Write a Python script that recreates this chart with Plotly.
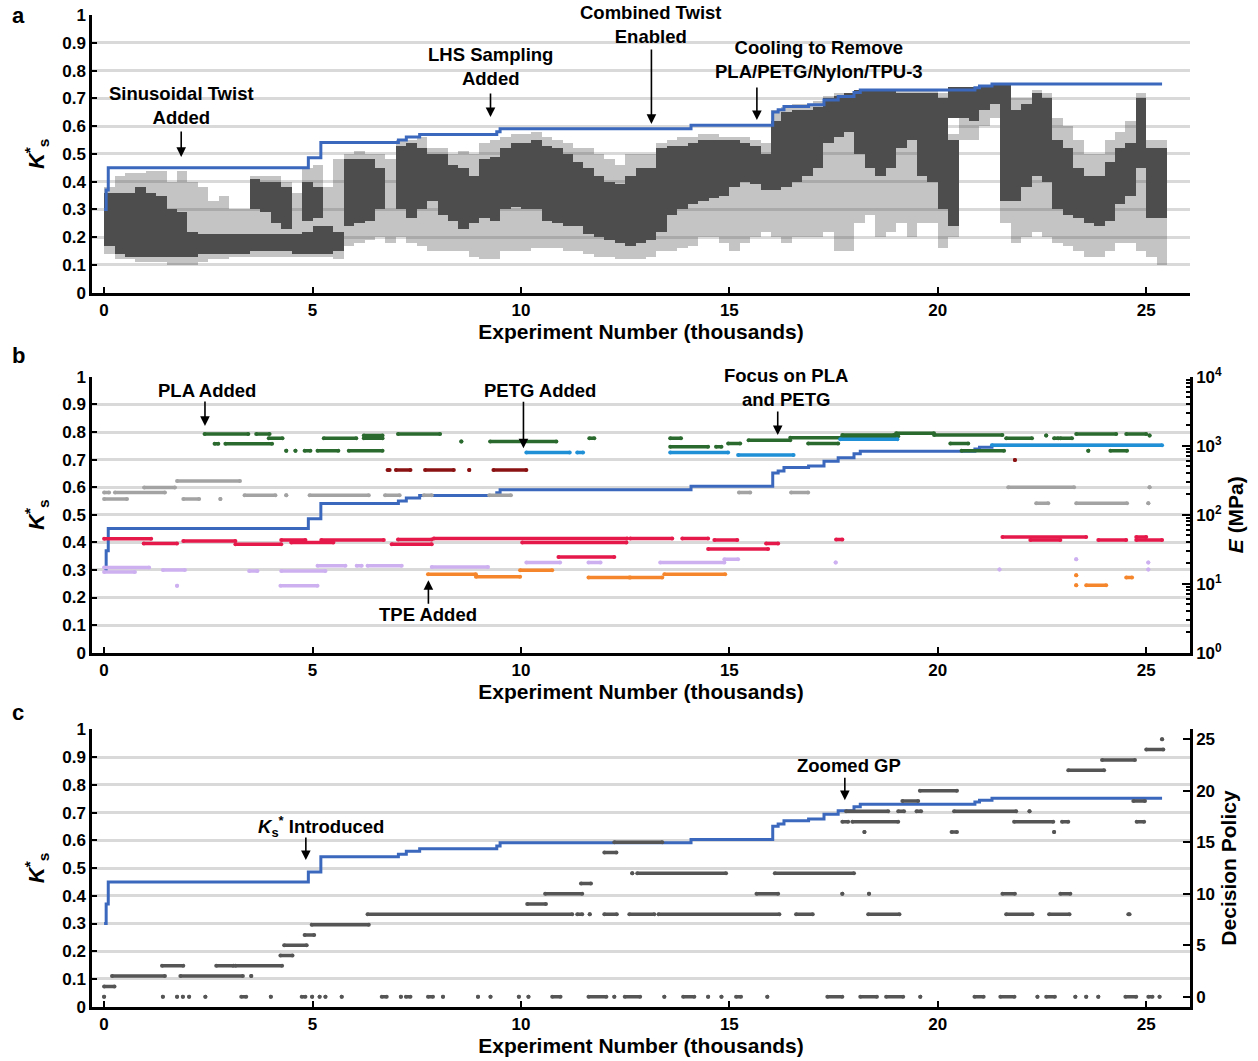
import plotly.graph_objects as go

# ---------------- DATA ----------------
# Best-so-far K_s* (step line, shared by all panels)
step_x = [0, 0.05, 0.1, 4.9, 5.2, 7.06, 7.25, 7.57, 9.42, 9.5, 14.08, 16.04, 16.17, 16.31,
          16.9, 17.27, 17.61, 17.99, 18.14, 20.89, 21.0, 21.3, 25.38]
step_y = [0.30, 0.37, 0.45, 0.486, 0.541, 0.55, 0.561, 0.570, 0.58, 0.591, 0.603, 0.651, 0.659,
          0.671, 0.677, 0.694, 0.707, 0.721, 0.730, 0.738, 0.745, 0.752, 0.752]

# Panel a: experiment cloud, summarised per 250-experiment bin (thousands)
cloud_bin_first = 0.0
cloud_bin_width = 0.25
core_lo = [0.17, 0.14, 0.13, 0.13, 0.13, 0.13, 0.13, 0.13, 0.13, 0.14, 0.14, 0.14, 0.14, 0.14,
           0.15, 0.15, 0.15, 0.15, 0.14, 0.14, 0.14, 0.14, 0.15, 0.24, 0.25, 0.26, 0.30, None,
           0.30, 0.27, 0.30, 0.33, 0.28, 0.26, 0.23, 0.25, 0.27, 0.26, 0.30, 0.31, 0.30, 0.30,
           0.26, 0.25, 0.24, 0.24, 0.21, 0.20, 0.19, 0.18, 0.17, 0.18, 0.19, 0.22, 0.28, 0.30,
           0.32, 0.33, 0.34, 0.35, 0.38, 0.40, 0.39, 0.37, 0.37, 0.38, 0.40, 0.42, 0.45, 0.54,
           0.56, 0.58, 0.50, 0.45, 0.42, 0.45, 0.52, 0.55, 0.42, 0.40, 0.30, 0.24, 0.63, 0.62,
           0.66, 0.68, 0.33, 0.33, 0.38, 0.42, 0.40, 0.30, 0.28, 0.27, 0.25, 0.24, 0.26, 0.32,
           0.35, 0.45, 0.27, 0.27]
core_hi = [0.36, 0.36, 0.36, 0.38, 0.36, 0.35, 0.30, 0.29, 0.22, 0.21, 0.21, 0.21, 0.21, 0.21,
           0.21, 0.21, 0.21, 0.21, 0.21, 0.22, 0.24, 0.24, 0.22, 0.48, 0.48, 0.48, 0.45, None,
           0.53, 0.54, 0.52, 0.50, 0.50, 0.46, 0.45, 0.42, 0.48, 0.49, 0.52, 0.54, 0.54, 0.55,
           0.53, 0.52, 0.50, 0.47, 0.45, 0.42, 0.40, 0.39, 0.42, 0.45, 0.45, 0.52, 0.53, 0.53,
           0.54, 0.55, 0.55, 0.55, 0.55, 0.54, 0.53, 0.50, 0.62, 0.65, 0.66, 0.66, 0.67, 0.70,
           0.71, 0.72, 0.73, 0.73, 0.73, 0.73, 0.72, 0.72, 0.72, 0.72, 0.70, 0.55, 0.74, 0.74,
           0.75, 0.75, 0.75, 0.66, 0.68, 0.72, 0.70, 0.55, 0.52, 0.45, 0.42, 0.42, 0.47, 0.52,
           0.54, 0.70, 0.52, 0.52]
halo_lo = [0.14, 0.12, 0.12, 0.11, 0.11, 0.11, 0.10, 0.10, 0.10, 0.11, 0.12, 0.12, 0.13, 0.13,
           0.13, 0.13, 0.13, 0.13, 0.13, 0.13, 0.13, 0.13, 0.12, 0.17, 0.18, 0.19, 0.20, 0.18,
           0.20, 0.18, 0.17, 0.15, 0.15, 0.15, 0.15, 0.13, 0.12, 0.12, 0.15, 0.15, 0.15, 0.16,
           0.16, 0.16, 0.15, 0.15, 0.14, 0.13, 0.13, 0.12, 0.12, 0.12, 0.13, 0.15, 0.15, 0.16,
           0.17, 0.20, 0.20, 0.18, 0.15, 0.18, 0.20, 0.22, 0.20, 0.18, 0.20, 0.20, 0.20, 0.22,
           0.15, 0.15, 0.25, 0.28, 0.20, 0.22, 0.25, 0.20, 0.25, 0.25, 0.16, 0.20, 0.55, 0.55,
           0.60, 0.63, 0.25, 0.18, 0.20, 0.22, 0.20, 0.18, 0.17, 0.15, 0.13, 0.13, 0.15, 0.18,
           0.18, 0.15, 0.13, 0.10]
halo_hi = [0.38, 0.42, 0.43, 0.43, 0.44, 0.44, 0.40, 0.44, 0.40, 0.38, 0.33, 0.35, 0.30, 0.30,
           0.42, 0.42, 0.42, 0.40, 0.36, 0.45, 0.46, 0.38, 0.48, 0.50, 0.51, 0.50, 0.50, 0.48,
           0.55, 0.55, 0.56, 0.52, 0.52, 0.50, 0.51, 0.50, 0.54, 0.55, 0.56, 0.57, 0.57, 0.58,
           0.56, 0.55, 0.54, 0.52, 0.52, 0.50, 0.48, 0.46, 0.50, 0.50, 0.50, 0.54, 0.55, 0.56,
           0.56, 0.57, 0.57, 0.56, 0.56, 0.56, 0.55, 0.54, 0.66, 0.67, 0.68, 0.68, 0.69, 0.71,
           0.72, 0.72, 0.73, 0.73, 0.73, 0.73, 0.73, 0.73, 0.73, 0.73, 0.72, 0.57, 0.74, 0.74,
           0.75, 0.75, 0.75, 0.70, 0.70, 0.73, 0.72, 0.63, 0.60, 0.55, 0.50, 0.50, 0.55, 0.58,
           0.62, 0.72, 0.55, 0.55]
# secondary dense clusters (upper clumps) per bin index
core2_bin = [14, 15, 16, 17, 19, 20, 81]
core2_lo = [0.30, 0.29, 0.25, 0.23, 0.26, 0.27, 0.63]
core2_hi = [0.41, 0.40, 0.40, 0.38, 0.40, 0.38, 0.74]

# Panel b: material campaigns (start, end in thousands; modulus E in MPa)
materials = {
    "PLA": dict(color="#2b6a2f",
        start=[2.41, 3.65, 7.05, 3.95, 5.27, 6.23, 6.23, 11.64, 2.65, 2.91, 8.57, 9.26, 4.37, 4.59,
               4.81, 5.12, 5.87, 13.58, 13.58, 14.68, 14.97, 15.46, 16.46, 17.71, 17.71, 19.0,
               19.91, 16.89, 20.3, 21.64, 22.6, 22.79, 22.94, 23.32, 24.52, 25.08, 20.57, 23.61,
               24.14],
        end=[3.46, 3.97, 8.06, 4.28, 6.05, 6.68, 6.68, 11.76, 2.74, 4.03, 8.57, 10.85, 4.37, 4.59,
             4.95, 5.62, 6.68, 13.84, 14.49, 14.81, 15.26, 16.46, 17.71, 19.05, 18.95, 19.91,
             21.55, 17.61, 20.73, 22.26, 22.6, 22.89, 23.22, 24.28, 25.0, 25.08, 21.59, 23.61,
             24.54],
        E=[1472, 1472, 1472, 1282, 1282, 1282, 1400, 1282, 1067, 1067, 1148, 1148, 847, 847,
           847, 847, 847, 1282, 964, 964, 1079, 1202, 1306, 1368, 1432, 1514, 1432, 1079, 1079,
           1282, 1400, 1282, 1282, 1472, 1472, 1400, 847, 847, 847]),
    "PETG": dict(color="#1f8fd6",
        start=[10.13, 11.35, 13.58, 15.21, 17.66, 21.3],
        end=[11.17, 11.49, 14.97, 16.54, 19.03, 25.38],
        E=[794, 794, 794, 731, 1236, 1019]),
    "Nylon": dict(color="#8b1212",
        start=[6.8, 7.0, 7.7, 8.76, 9.34, 21.85],
        end=[6.85, 7.35, 8.39, 8.76, 10.13, 21.85],
        E=[445, 445, 445, 445, 445, 619]),
    "Gray": dict(color="#a3a3a3",
        start=[0.0, 0.26, 0.0, 1.9, 2.79, 0.96, 1.75, 3.37, 4.37, 4.93, 6.74, 7.67, 9.24, 15.23,
               16.48, 21.69, 25.08, 22.36, 23.32, 25.05],
        end=[0.12, 1.46, 0.55, 2.28, 2.79, 1.7, 3.26, 4.11, 4.37, 6.35, 7.09, 7.86, 9.76, 15.5,
             16.89, 23.27, 25.08, 22.65, 24.54, 25.05],
        E=[209, 209, 169, 169, 169, 247, 308, 192, 192, 192, 192, 192, 192, 209, 209, 250, 250,
           146, 146, 146]),
    "TPU": dict(color="#e6194b",
        start=[0.0, 0.95, 1.9, 3.15, 4.25, 4.49, 5.21, 6.9, 7.05, 7.91, 10.03, 10.9, 12.62, 13.87,
               14.64, 14.49, 15.88, 17.56, 21.55, 22.22, 23.85, 24.76, 24.76],
        end=[1.13, 1.75, 3.15, 4.25, 4.83, 5.5, 6.71, 7.86, 7.86, 12.55, 12.53, 12.24, 13.63,
             14.49, 15.19, 15.93, 16.17, 17.71, 23.56, 22.94, 24.52, 25.38, 25.0],
        E=[44.9, 38.4, 41.7, 37.4, 42.9, 39.5, 42.9, 37.4, 43.7, 45.3, 39.5, 24.4, 45.3, 45.3,
           42.9, 31.9, 38.4, 43.7, 47.4, 42.9, 42.9, 42.9, 47.4]),
    "Soft": dict(color="#cdb0f0",
        start=[0.0, 0.0, 1.41, 1.75, 4.23, 3.48, 4.25, 5.12, 6.06, 6.32, 7.86, 10.13, 11.62, 13.34,
               14.88, 17.55, 23.32, 25.05, 21.48, 25.05],
        end=[1.08, 0.74, 1.94, 1.75, 5.12, 3.68, 5.31, 5.79, 6.18, 7.14, 9.21, 10.94, 11.91,
             14.88, 15.21, 17.55, 23.32, 25.05, 21.48, 25.05],
        E=[17.1, 14.8, 15.8, 9.3, 9.3, 15.3, 15.3, 18.2, 18.2, 18.2, 17.4, 20.3, 20.3, 20.3,
           22.7, 20.3, 22.7, 20.3, 16.1, 16.1]),
    "TPE": dict(color="#f5862c",
        start=[7.77, 8.92, 9.98, 11.62, 12.62, 13.44, 23.32, 23.32, 23.56, 24.52],
        end=[8.92, 9.98, 10.75, 12.6, 13.39, 14.9, 23.32, 23.32, 24.04, 24.66],
        E=[13.7, 12.6, 15.6, 12.3, 12.3, 13.7, 13.3, 9.5, 9.5, 12.3]),
}

# Panel c: decision policy campaigns (start, end in thousands; policy index)
policy_start = [0.0, 0.19, 1.83, 3.53, 1.39, 2.69, 3.15, 4.23, 4.32, 4.81, 4.98,
                6.32, 11.35, 11.65, 12.0, 12.6, 13.3, 16.6, 18.33, 21.64, 22.67, 24.57,
                10.15, 10.58, 15.65, 17.71, 18.35, 21.55, 22.94, 11.44,
                12.67, 12.79, 16.09, 12.0, 12.24, 18.24, 20.33, 22.79,
                17.71, 17.95, 21.83, 22.98, 24.77, 17.8, 19.05, 19.49, 20.39, 22.2,
                19.15, 24.69, 19.57, 23.13, 23.94, 25.0, 25.38,
                0.0, 1.41, 1.75, 1.89, 2.04, 2.43, 3.29, 4.0, 4.74, 4.99, 5.17, 5.31, 5.7, 6.66,
                7.12, 7.24, 7.77, 8.13, 8.97, 9.27, 9.95, 10.18, 10.75, 11.62, 12.24, 12.49,
                13.44, 13.89, 14.49, 14.81, 15.16, 15.91, 17.35, 18.14, 18.76, 19.58, 20.88,
                21.5, 22.39, 22.6, 23.3, 23.56, 23.85, 24.5, 25.05, 25.32]
policy_end = [0.25, 1.46, 3.33, 3.53, 1.9, 3.1, 4.27, 4.52, 4.86, 5.04, 6.35,
              11.23, 11.47, 11.65, 12.3, 13.2, 16.2, 17.0, 19.08, 22.27, 23.16, 24.6,
              10.6, 11.47, 16.17, 17.71, 18.35, 21.85, 23.18, 11.68,
              12.67, 14.92, 17.99, 12.29, 13.39, 18.24, 20.46, 22.79,
              17.85, 19.05, 22.77, 23.13, 24.95, 18.81, 19.19, 19.6, 21.88, 22.2,
              19.53, 24.97, 20.46, 23.99, 24.73, 25.41, 25.38,
              0.0, 1.41, 1.75, 1.89, 2.04, 2.43, 3.41, 4.0, 4.83, 4.99, 5.17, 5.31, 5.7, 6.78,
              7.12, 7.35, 7.89, 8.13, 8.97, 9.27, 9.95, 10.18, 10.95, 12.05, 12.24, 12.86,
              13.44, 14.16, 14.49, 14.81, 15.28, 15.91, 17.71, 18.54, 19.17, 19.58, 21.1,
              21.84, 22.39, 22.81, 23.3, 23.56, 23.85, 24.76, 25.15, 25.32]
policy_level = [1, 2, 2, 2, 3, 3, 3, 4, 5, 6, 7,
                8, 8, 8, 8, 8, 8, 8, 8, 8, 8, 8,
                9, 10, 10, 10, 10, 10, 10, 11,
                12, 12, 12, 14, 15, 16, 16, 16,
                17, 17, 17, 17, 17, 18, 18, 18, 18, 18,
                19, 19, 20, 22, 23, 24, 25,
                0, 0, 0, 0, 0, 0, 0, 0, 0, 0, 0, 0, 0, 0,
                0, 0, 0, 0, 0, 0, 0, 0, 0, 0, 0, 0,
                0, 0, 0, 0, 0, 0, 0, 0, 0, 0, 0,
                0, 0, 0, 0, 0, 0, 0, 0, 0]

x_ticks = [0, 5, 10, 15, 20, 25]

# ---------------- STYLE ----------------
FONT = "Liberation Sans, Arial, sans-serif"
BLUE = "#3b68bd"
CORE = "#4d4d4d"
HALO = "rgba(77,77,77,0.33)"
GRID = "#d9d9d9"
X_DOM = [92 / 1258, 1190 / 1258]
X_RANGE = [-0.29, 26.05]

fig = go.Figure()


def segs(starts, ends, vals):
    xs, ys = [], []
    for s, e, v in zip(starts, ends, vals):
        xs += [s, e, None]
        ys += [v, v, None]
    return xs, ys


# ---- panel a ----
n = len(core_lo)
centers = [cloud_bin_first + cloud_bin_width * (i + 0.5) for i in range(n)]
hx, hb, hh = [], [], []
for i in range(n):
    hx.append(centers[i]); hb.append(halo_lo[i]); hh.append(halo_hi[i] - halo_lo[i])
fig.add_trace(go.Bar(x=hx, y=hh, base=hb, width=cloud_bin_width, xaxis="x", yaxis="y",
                     marker=dict(color=HALO, line=dict(width=0)),
                     showlegend=False, hoverinfo="skip"))
cx, cb, ch = [], [], []
for i in range(n):
    if core_lo[i] is None:
        continue
    cx.append(centers[i]); cb.append(core_lo[i]); ch.append(core_hi[i] - core_lo[i])
for i, lo, hi in zip(core2_bin, core2_lo, core2_hi):
    cx.append(centers[i]); cb.append(lo); ch.append(hi - lo)
fig.add_trace(go.Bar(x=cx, y=ch, base=cb, width=cloud_bin_width, xaxis="x", yaxis="y",
                     marker=dict(color=CORE, line=dict(width=0)),
                     showlegend=False, hoverinfo="skip"))

for xa, ya in [("x", "y"), ("x2", "y2"), ("x3", "y4")]:
    fig.add_trace(go.Scatter(x=step_x, y=step_y, xaxis=xa, yaxis=ya, mode="lines",
                             line=dict(color=BLUE, width=3, shape="hv"),
                             showlegend=False, hoverinfo="skip"))

# ---- panel b ----
for name, m in materials.items():
    xs, ys = segs(m["start"], m["end"], m["E"])
    fig.add_trace(go.Scatter(x=xs, y=ys, xaxis="x2", yaxis="y3", mode="lines+markers",
                             line=dict(color=m["color"], width=3.5),
                             marker=dict(color=m["color"], size=4),
                             showlegend=False, hoverinfo="skip", name=name))

# ---- panel c ----
xs, ys = segs(policy_start, policy_end, policy_level)
fig.add_trace(go.Scatter(x=xs, y=ys, xaxis="x3", yaxis="y5", mode="lines+markers",
                         line=dict(color="#555555", width=3.5),
                         marker=dict(color="#555555", size=4),
                         showlegend=False, hoverinfo="skip"))

# ---------------- AXES ----------------
tickfont = dict(family=FONT, size=17, color="black", weight="bold")
titlefont = dict(family=FONT, size=21, color="black", weight="bold")


def xaxis(anchor):
    return dict(domain=X_DOM, range=X_RANGE, anchor=anchor, tickvals=x_ticks,
                ticks="inside", ticklen=6, tickwidth=2, tickcolor="black",
                showline=True, linewidth=2.5, linecolor="black", showgrid=False,
                zeroline=False, tickfont=tickfont, automargin=False,
                title=dict(text="Experiment Number (thousands)", font=titlefont, standoff=2))


def yaxis(domain, anchor):
    return dict(domain=domain, range=[0, 1.0005], anchor=anchor,
                tickvals=[0, 0.1, 0.2, 0.3, 0.4, 0.5, 0.6, 0.7, 0.8, 0.9, 1],
                ticktext=["0", "0.1", "0.2", "0.3", "0.4", "0.5", "0.6", "0.7", "0.8", "0.9", "1"],
                ticks="inside", ticklen=5, tickwidth=2, tickcolor="black",
                showline=True, linewidth=2.5, linecolor="black",
                showgrid=True, gridcolor=GRID, gridwidth=2.5, zeroline=False,
                tickfont=tickfont, automargin=False,
                title=dict(text="<i>K</i><sup>*</sup><sub>s</sub>", font=dict(family=FONT, size=22,
                           color="black", weight="bold"), standoff=12))


dom_a = [1 - 292.7 / 1061, 1 - 15 / 1061]
dom_b = [1 - 652.7 / 1061, 1 - 376.7 / 1061]
dom_c = [1 - 1006.7 / 1061, 1 - 729.3 / 1061]

fig.update_layout(
    width=1258, height=1061, margin=dict(l=0, r=0, t=0, b=0, autoexpand=False),
    paper_bgcolor="white", plot_bgcolor="white",
    barmode="overlay", bargap=0, showlegend=False,
    font=dict(family=FONT, color="black"),
    xaxis=xaxis("y"), yaxis=yaxis(dom_a, "x"),
    xaxis2=xaxis("y2"), yaxis2=yaxis(dom_b, "x2"),
    xaxis3=xaxis("y4"), yaxis4=yaxis(dom_c, "x3"),
    yaxis3=dict(overlaying="y2", anchor="x2", side="right", type="log", range=[0, 4],
                tickvals=[1, 10, 100, 1000, 10000],
                ticktext=["10<sup>0</sup>", "10<sup>1</sup>", "10<sup>2</sup>", "10<sup>3</sup>",
                          "10<sup>4</sup>"],
                ticks="inside", ticklen=8, tickwidth=2, tickcolor="black",
                minor=dict(ticks="inside", ticklen=4, tickwidth=1.5, tickcolor="black",
                           dtick="D1", showgrid=False),
                showline=True, linewidth=2.5, linecolor="black", showgrid=False, zeroline=False,
                tickfont=tickfont, automargin=False,
                title=dict(text="<i>E</i> (MPa)", font=titlefont, standoff=8)),
    yaxis5=dict(overlaying="y4", anchor="x3", side="right", range=[-0.97, 25.97],
                tickvals=[0, 5, 10, 15, 20, 25],
                ticks="inside", ticklen=7, tickwidth=2, tickcolor="black",
                showline=True, linewidth=2.5, linecolor="black", showgrid=False, zeroline=False,
                tickfont=tickfont, automargin=False,
                title=dict(text="Decision Policy", font=titlefont, standoff=8)),
)

# ---------------- ANNOTATIONS ----------------
afont = dict(family=FONT, size=18.5, color="black", weight="bold")
texts = [
    ("x", "y", 1.85, 0.674, "Sinusoidal Twist<br>Added"),
    ("x", "y", 9.27, 0.815, "LHS Sampling<br>Added"),
    ("x", "y", 13.13, 0.966, "Combined Twist<br>Enabled"),
    ("x", "y", 17.15, 0.840, "Cooling to Remove<br>PLA/PETG/Nylon/TPU-3"),
    ("x2", "y2", 2.47, 0.952, "PLA Added"),
    ("x2", "y2", 10.45, 0.952, "PETG Added"),
    ("x2", "y2", 7.78, 0.137, "TPE Added"),
    ("x2", "y2", 16.35, 0.962, "Focus on PLA<br>and PETG"),
    ("x3", "y4", 5.2, 0.651, "<i>K</i><sub>s</sub><sup>*</sup> Introduced"),
    ("x3", "y4", 17.87, 0.871, "Zoomed GP"),
]
for xr, yr, x, y, t in texts:
    fig.add_annotation(xref=xr, yref=yr, x=x, y=y, text=t, showarrow=False, font=afont,
                       xanchor="center", yanchor="middle", align="center")

arrows = [
    ("x", "y", 1.85, 0.489, -27),
    ("x", "y", 9.27, 0.633, -25),
    ("x", "y", 13.13, 0.608, -76),
    ("x", "y", 15.66, 0.622, -34),
    ("x2", "y2", 2.42, 0.822, -26),
    ("x2", "y2", 10.06, 0.741, -48),
    ("x2", "y2", 7.78, 0.263, 25),
    ("x2", "y2", 16.16, 0.789, -25),
    ("x3", "y4", 4.84, 0.529, -24),
    ("x3", "y4", 17.77, 0.745, -24),
]
for xr, yr, x, y, ay in arrows:
    fig.add_annotation(xref=xr, yref=yr, x=x, y=y, text="", showarrow=True, ax=0, ay=ay,
                       arrowhead=2, arrowsize=1.2, arrowwidth=1.6, arrowcolor="black",
                       font=dict(size=1))

for lbl, ypx in [("a", 15), ("b", 355), ("c", 712)]:
    fig.add_annotation(xref="paper", yref="paper", x=10 / 1258, y=1 - ypx / 1061, text=lbl,
                       showarrow=False, xanchor="left", yanchor="middle",
                       font=dict(family=FONT, size=22, color="black", weight="bold"))

fig.write_html("out.html")
